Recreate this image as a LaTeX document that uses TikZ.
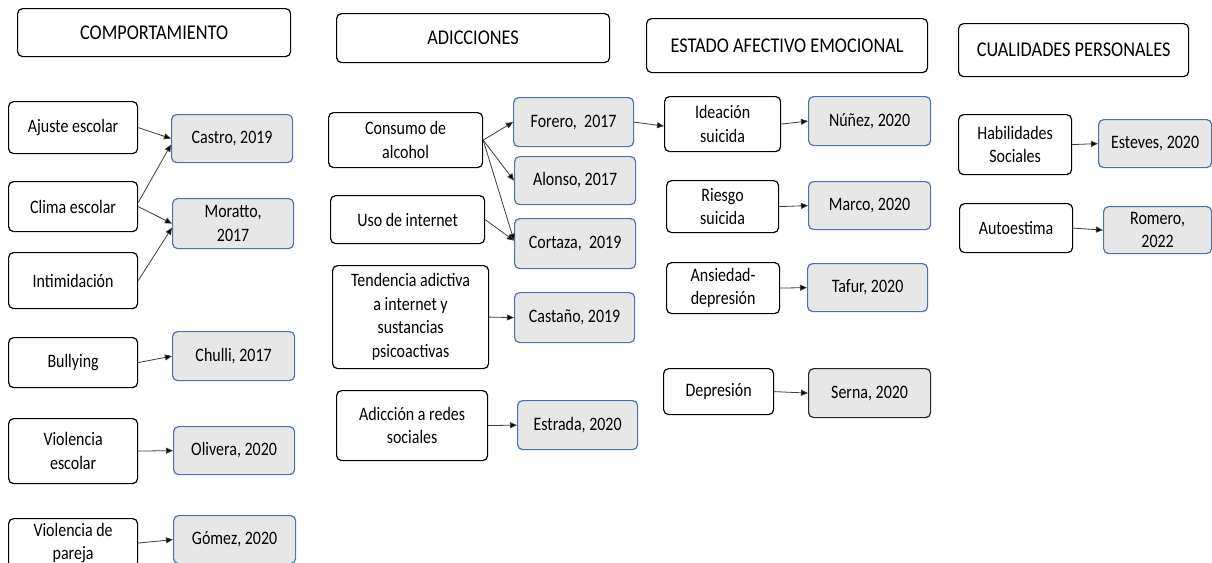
\documentclass[tikz,border=0pt]{standalone}
\usepackage{fontspec}
\setmainfont{Carlito}[FakeStretch=0.84]
\newfontfamily\hfont{Carlito}[FakeStretch=0.87]
\usetikzlibrary{arrows.meta}
\definecolor{refblue}{RGB}{74,116,166}
\definecolor{refgray}{RGB}{231,231,231}
\definecolor{arrgray}{RGB}{60,60,60}
\tikzset{
  basebox/.style={rounded corners=5pt, line width=1.2pt, inner sep=0pt, align=center, anchor=north west,
    font=\fontsize{19}{23.5}\selectfont},
  wbox/.style={basebox, draw=black, fill=white},
  gbox/.style={basebox, draw=refblue, fill=refgray},
  kbox/.style={basebox, draw=black!85, fill=refgray},
  hbox/.style={basebox, draw=black, fill=white, font=\hfont\fontsize{21}{24}\selectfont},
  arr/.style={draw=arrgray, line width=0.8pt, -{Triangle[length=7pt,width=6pt,fill=black]}}
}
\newcommand{\bx}[7]{\node[#1, minimum width={(#5-#3)*1pt}, minimum height={(#6-#4)*1pt}] (#2) at (#3,#4) {#7};}
\begin{document}
\begin{tikzpicture}[x=1pt,y=-1pt]
\useasboundingbox (0,0) rectangle (1212,562);
% headers
\bx{hbox}{h1}{17}{8}{290}{56}{COMPORTAMIENTO}
\bx{hbox}{h2}{336}{13}{609}{62}{ADICCIONES}
\bx{hbox}{h3}{646}{18}{927}{72}{ESTADO AFECTIVO EMOCIONAL}
\bx{hbox}{h4}{958}{23}{1188}{76}{CUALIDADES PERSONALES}
% column 1
\bx{wbox}{ajuste}{8}{101}{137}{153}{Ajuste escolar}
\bx{wbox}{clima}{8}{181}{137}{231}{Clima escolar}
\bx{wbox}{intim}{8}{252}{137}{308}{Intimidación}
\bx{wbox}{bully}{8}{337}{137}{387}{Bullying}
\bx{wbox}{vesc}{8}{418}{137}{483}{Violencia\\escolar}
\bx{wbox}{vpar}{8}{518}{137}{567}{Violencia de\\pareja}
\bx{gbox}{castro}{171}{114}{292}{162}{Castro, 2019}
\bx{gbox}{moratto}{172}{198}{293}{248}{Moratto,\\2017}
\bx{gbox}{chulli}{172}{331}{294}{380}{Chulli, 2017}
\bx{gbox}{olivera}{173}{426}{294}{474}{Olivera, 2020}
\bx{gbox}{gomez}{173}{515}{295}{563}{Gómez, 2020}
% column 2
\bx{wbox}{consumo}{328}{112}{482}{167}{Consumo de\\alcohol}
\bx{wbox}{uso}{330}{195}{484}{243}{Uso de internet}
\bx{wbox}{tend}{332}{265}{488}{368}{Tendencia adictiva\\a internet y\\sustancias\\psicoactivas}
\bx{wbox}{redes}{336}{390}{487}{460}{Adicción a redes\\sociales}
\bx{gbox}{forero}{513}{97}{633}{146}{Forero,~ 2017}
\bx{gbox}{alonso}{514}{156}{635}{204}{Alonso, 2017}
\bx{gbox}{cortaza}{514}{218}{635}{268}{Cortaza,~ 2019}
\bx{gbox}{castano}{514}{292}{634}{342}{Castaño, 2019}
\bx{gbox}{estrada}{517}{400}{637}{449}{Estrada, 2020}
% column 3
\bx{wbox}{ideacion}{664}{96}{780}{151}{Ideación\\suicida}
\bx{wbox}{riesgo}{666}{180}{778}{232}{Riesgo\\suicida}
\bx{wbox}{ansiedad}{666}{262}{779}{313}{Ansiedad-\\depresión}
\bx{wbox}{depresion}{663}{368}{773}{414}{Depresión}
\bx{gbox}{nunez}{808}{96}{930}{145}{Núñez, 2020}
\bx{gbox}{marco}{808}{181}{930}{229}{Marco, 2020}
\bx{gbox}{tafur}{807}{263}{927}{311}{Tafur, 2020}
\bx{kbox}{serna}{808}{368}{930}{417}{Serna, 2020}
% column 4
\bx{wbox}{habil}{958}{114}{1071}{174}{Habilidades\\Sociales}
\bx{wbox}{autoest}{959}{203}{1072}{252}{Autoestima}
\bx{gbox}{esteves}{1098}{119}{1211}{167}{Esteves, 2020}
\bx{gbox}{romero}{1103}{206}{1211}{253}{Romero,\\2022}
% arrows column 1
\draw[arr] (ajuste.east) -- (castro.west);
\draw[arr] ([yshift=4pt]clima.east) -- ([yshift=-6pt]castro.west);
\draw[arr] (clima.east) -- (moratto.west);
\draw[arr] (intim.east) -- ([yshift=-4pt]moratto.west);
\draw[arr] (bully.east) -- (chulli.west);
\draw[arr] (vesc.east) -- (olivera.west);
\draw[arr] (vpar.east) -- (gomez.west);
% arrows column 2
\draw[arr] (consumo.east) -- (forero.west);
\draw[arr] (consumo.east) -- (alonso.west);
\draw[arr] (consumo.east) -- ([yshift=3pt]cortaza.west);
\draw[arr] (uso.east) -- ([yshift=3pt]cortaza.west);
\draw[arr] (tend.east) -- (castano.west);
\draw[arr] (redes.east) -- (estrada.west);
\draw[arr] (forero.east) -- ([yshift=-2pt]ideacion.west);
% arrows column 3
\draw[arr] (ideacion.east) -- (nunez.west);
\draw[arr] (riesgo.east) -- (marco.west);
\draw[arr] (ansiedad.east) -- (tafur.west);
\draw[arr] (depresion.east) -- (serna.west);
% arrows column 4
\draw[arr] (habil.east) -- (esteves.west);
\draw[arr] (autoest.east) -- (romero.west);
\end{tikzpicture}
\end{document}
